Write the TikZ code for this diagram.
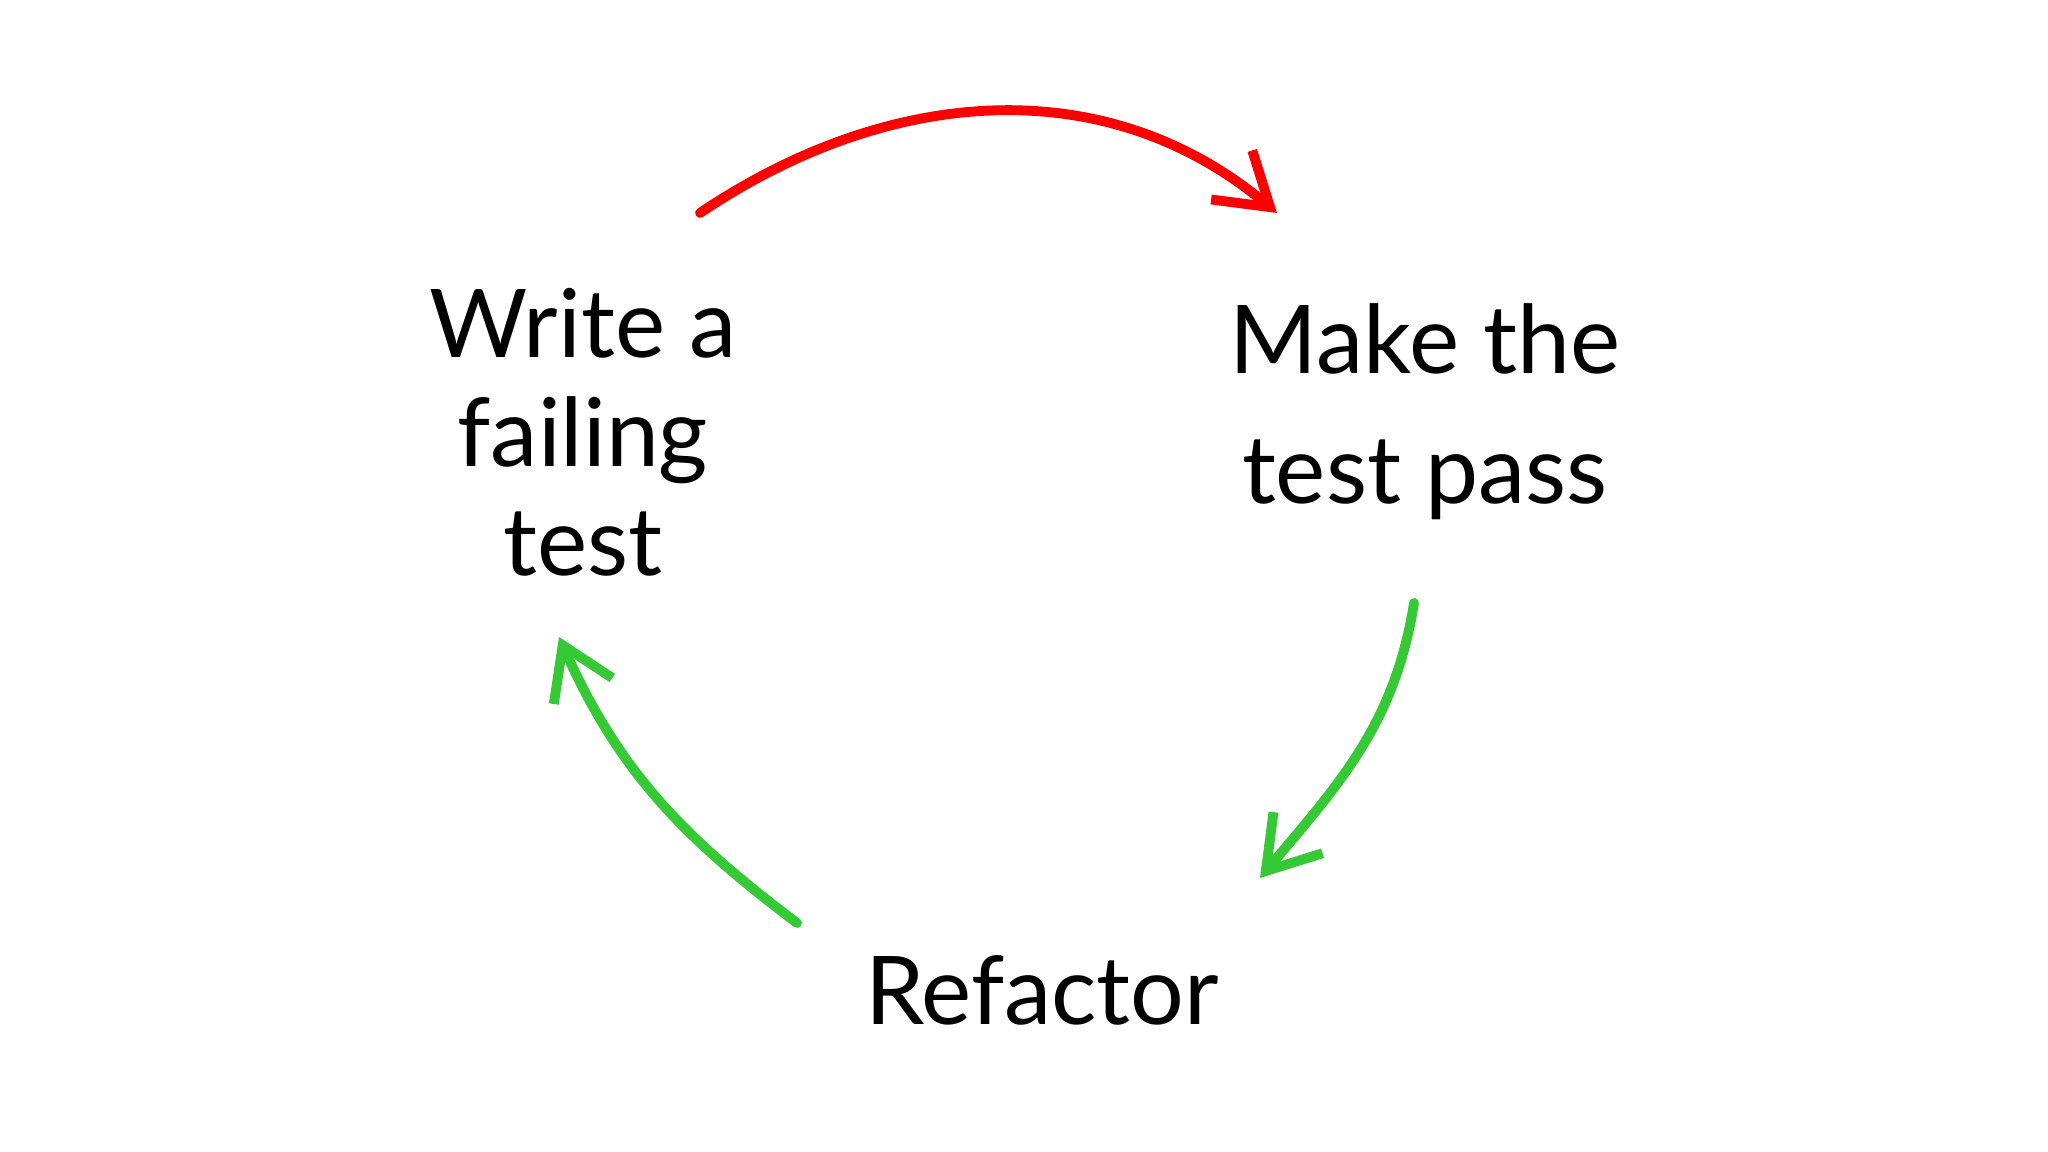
\documentclass[tikz,border=0pt]{standalone}
\usepackage{fontspec}
\setmainfont{Lato}
\usetikzlibrary{arrows.meta,positioning}
\definecolor{ink}{HTML}{000000}
\definecolor{failred}{HTML}{FF0000}
\definecolor{passgreen}{HTML}{36C936}
\tikzset{
  phase/.style={align=center,text=ink,inner sep=0pt,font=\fontsize{27}{31}\selectfont},
  cycleflow/.style={draw=#1,line width=2.8pt,line cap=round,-{Straight Barb[length=5mm,width=6.4mm,line width=2.8pt]}}
}

\begin{document}
\begin{tikzpicture}
        \useasboundingbox (0,0) rectangle (20.48,11.52);
        \node[phase] (write) at (5.83,7.20) {Write a\\failing\\test};
        \node[phase,font=\fontsize{27}{37}\selectfont] (make) at (14.25,7.40) {Make the\\test pass};
        \node[phase,anchor=base] (refactor) at (10.42,1.27) {Refactor};
        % ends of the strokes
        \coordinate (redA) at (7.00,9.39);
        \coordinate (redB) at (12.77,9.39);
        \coordinate (rightA) at (14.14,5.49);
        \coordinate (rightB) at (12.60,2.74);
        \coordinate (leftA) at (7.97,2.29);
        \coordinate (leftB) at (5.59,5.15);
        \draw[cycleflow=failred] (redA) to[out=34,in=140] (redB);
        \draw[cycleflow=passgreen] (rightA) to[out=-99,in=50] (rightB);
        \draw[cycleflow=passgreen] (leftA) to[out=143,in=-66] (leftB);
      \end{tikzpicture}
\end{document}
